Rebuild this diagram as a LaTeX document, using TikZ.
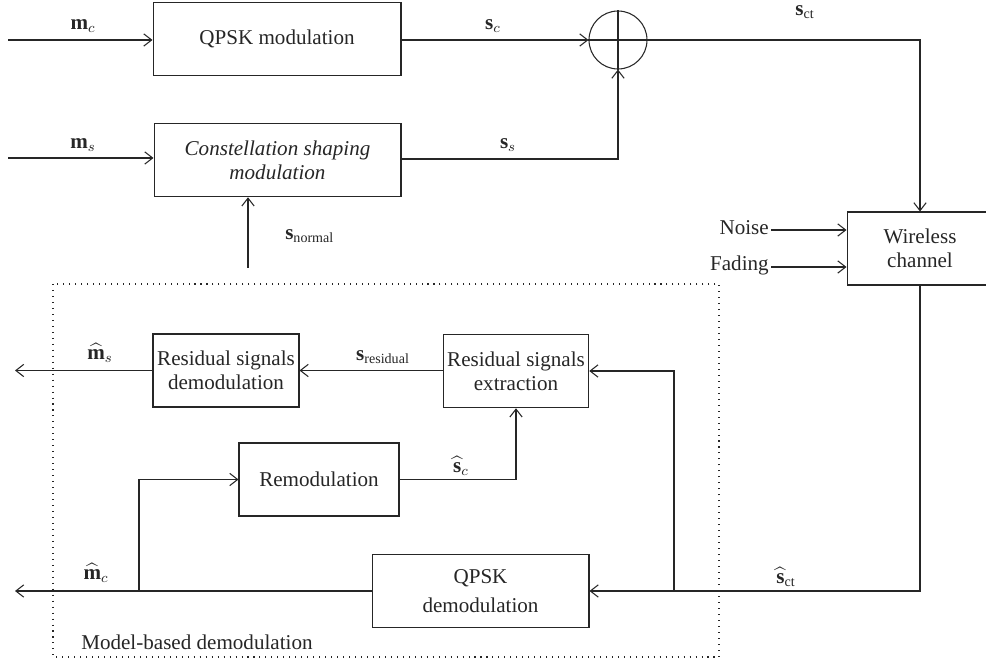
\documentclass[tikz,border=0pt]{standalone}
\usepackage{amsmath}
\usepackage{fontspec}
\setmainfont{Liberation Serif}
\usetikzlibrary{arrows.meta,positioning}

\begin{document}
\begin{tikzpicture}[x=0.02cm, y=-0.02cm,
  font=\fontsize{12}{13.6}\selectfont,
  line width=0.6pt, color=black!85,
  >={Straight Barb[length=4.5pt,width=7pt]},
  block/.style={draw, align=center, inner sep=0pt, minimum height=1.47cm},
  lbl/.style={inner sep=1pt}]

\clip (0,0) rectangle (986,665);

% transmitter
\node[block, minimum width=4.96cm] (qpskmod) at (277,39) {QPSK modulation};
\node[block, minimum width=4.94cm] (csmod) at (277.5,160) {\textit{Constellation shaping}\\\textit{modulation}};
\node[draw, circle, minimum size=1.16cm, inner sep=0pt] (adder) at (618,40) {};
\draw (adder.north) -- (adder.south);
\draw (adder.west) -- (adder.east);

% inputs
\coordinate (mcin) at (8,40);
\coordinate (msin) at (8,158);
\draw[->] (mcin) -- (mcin -| qpskmod.west);
\draw[->] (msin) -- (msin -| csmod.west);
\node[lbl] (mclbl) at (83,26) {$\mathbf{m}_c$};
\node[lbl] (mslbl) at (83,145) {$\mathbf{m}_s$};

\draw[->] (qpskmod.east |- adder.west) -- (adder.west);
\draw[->] (csmod.east |- 0,159) -| (adder.south);
\node[lbl] (sclbl) at (493,26) {$\mathbf{s}_c$};
\node[lbl] (sslbl) at (508,145) {$\mathbf{s}_s$};

% channel
\node[block, minimum width=2.92cm, minimum height=1.46cm] (wireless) at (920,248.5) {Wireless\\channel};
\draw[->] (adder.east) -| (wireless.north);
\node[lbl] (sctlbl) at (805,12) {$\mathbf{s}_{\mathrm{ct}}$};

\node[lbl, anchor=east] (noise) at (771,228) {Noise};
\node[lbl, anchor=east] (fading) at (771,265) {Fading};
\draw[->] (noise.east |- 0,230) -- (wireless.west |- 0,230);
\draw[->] (fading.east |- 0,267) -- (wireless.west |- 0,267);

% normal signal
\coordinate (snin) at (248,268);
\draw[->] (snin) -- (snin |- csmod.south);
\node[lbl, anchor=west] (snlbl) at (283,236) {$\mathbf{s}_{\mathrm{normal}}$};

% receiver
\draw[dash pattern=on 0.6pt off 2.8pt] (53,284) rectangle (719,657);
\node[lbl, anchor=west] (mbd) at (79,642) {Model-based demodulation};

\node[block, minimum width=2.92cm, minimum height=1.46cm] (resdemod) at (226,370.5) {Residual signals\\demodulation};
\node[block, minimum width=2.91cm] (resext) at (516,371) {Residual signals\\extraction};
\node[block, minimum width=3.2cm, minimum height=1.46cm] (remod) at (319,479.5) {Remodulation};
\node[block, minimum width=4.34cm] (qpskdemod) at (480.5,591) {QPSK\\[3pt]demodulation};

\coordinate (tap) at (674,591);
\coordinate (msout) at (15,370.5);
\coordinate (mcout) at (15,591);
\coordinate (fork) at (139,591);

\draw[->] (wireless.south) |- (qpskdemod.east);
\draw[->] (tap) |- (resext.east);
\node[lbl] (hsctlbl) at (786,577) {$\widehat{\mathbf{s}}_{\mathrm{ct}}$};

\draw[->] (resext.west |- resdemod.east) -- (resdemod.east);
\node[lbl] (sreslbl) at (383,357) {$\mathbf{s}_{\mathrm{residual}}$};
\draw[->] (resdemod.west) -- (msout);
\node[lbl] (hmslbl) at (100,353) {$\widehat{\mathbf{m}}_s$};

\draw[->] (qpskdemod.west) -- (mcout);
\node[lbl] (hmclbl) at (96,573) {$\widehat{\mathbf{m}}_c$};
\draw[->] (fork) |- (remod.west);
\draw[->] (remod.east) -| (resext.south);
\node[lbl] (hsclbl) at (461,466) {$\widehat{\mathbf{s}}_c$};

\end{tikzpicture}
\end{document}
